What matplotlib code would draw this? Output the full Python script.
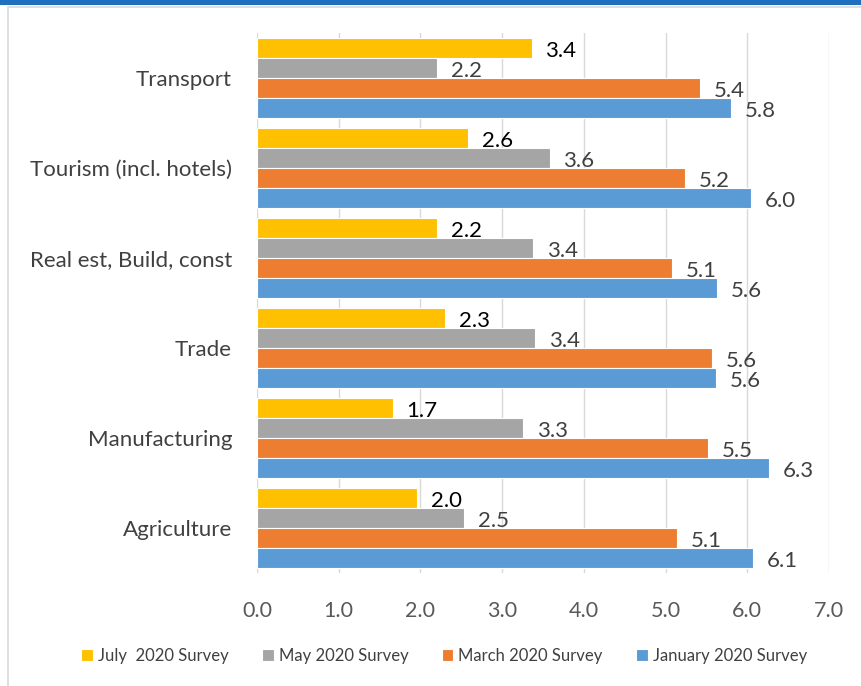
import matplotlib
matplotlib.use("Agg")
import matplotlib.pyplot as plt
from matplotlib.patches import Rectangle
import numpy as np

plt.rcParams['font.family'] = ['Lato', 'DejaVu Sans']

categories = ["Agriculture", "Manufacturing", "Trade", "Real est, Build, const",
              "Tourism (incl. hotels)", "Transport"]
series_names = ["July  2020 Survey", "May 2020 Survey", "March 2020 Survey", "January 2020 Survey"]
july = [1.96, 1.66, 2.30, 2.20, 2.58, 3.36]
may = [2.53, 3.26, 3.40, 3.38, 3.58, 2.20]
march = [5.14, 5.52, 5.57, 5.08, 5.24, 5.42]
january = [6.07, 6.26, 5.62, 5.63, 6.04, 5.80]
xticks = [0, 1, 2, 3, 4, 5, 6, 7]

colors = ["#FFC000", "#A5A5A5", "#ED7D31", "#5B9BD5"]
label_colors = ["#000000", "#404040", "#404040", "#404040"]
series = [july, may, march, january]

fig = plt.figure(figsize=(8.61, 6.86), dpi=100)
W, H = 861, 686
ax = fig.add_axes([257 / W, 1 - 573 / H, (829 - 257) / W, (573 - 33) / H])

y = np.arange(len(categories))
bh = 0.8 * 1.0 / 3.6  # group 80px of 90px
offsets = [1.5 * bh, 0.5 * bh, -0.5 * bh, -1.5 * bh]
for vals, c, lc, off, name in zip(series, colors, label_colors, offsets, series_names):
    ax.barh(y + off, vals, height=bh, color=c, edgecolor="white", linewidth=0.8,
            label=name, zorder=3)
    for yy, v in zip(y + off, vals):
        ax.annotate(f"{v:.1f}", xy=(v, yy), xytext=(10, -2), textcoords="offset points",
                    va="center", ha="left", fontsize=16, color=lc, zorder=4)

ax.set_xlim(0, 7)
ax.set_ylim(-0.5, 5.5)
ax.set_xticks(xticks)
ax.set_xticklabels([f"{t:.1f}" for t in xticks], fontsize=15.5, color="#595959")
ax.set_yticks(y)
ax.set_yticklabels(categories, fontsize=16, color="#404040")
ax.tick_params(axis="both", length=0)
ax.tick_params(axis="x", pad=20)
ax.tick_params(axis="y", pad=18)
for s in ax.spines.values():
    s.set_visible(False)
ax.grid(axis="x", color="#D9D9D9", linewidth=1, zorder=0)
ax.set_axisbelow(True)

leg = fig.legend(loc="center", bbox_to_anchor=(444 / W, 1 - 656 / H), ncol=4, frameon=False,
                 fontsize=12, handlelength=0.7, handleheight=0.7, handletextpad=0.3,
                 columnspacing=2.0, labelcolor="#404040")

# figure decorations: blue top band and light border
fig.patches.append(Rectangle((0, 1 - 5 / H), 1, 5 / H, transform=fig.transFigure,
                             facecolor="#1F6FBF", edgecolor="none", zorder=0))
fig.patches.append(Rectangle((8 / W, -0.01), 1.0, 1 - 7 / H + 0.01, transform=fig.transFigure,
                             facecolor="none", edgecolor="#D9D9D9", linewidth=1.2, zorder=0))

fig.savefig("out.png", dpi=100)
